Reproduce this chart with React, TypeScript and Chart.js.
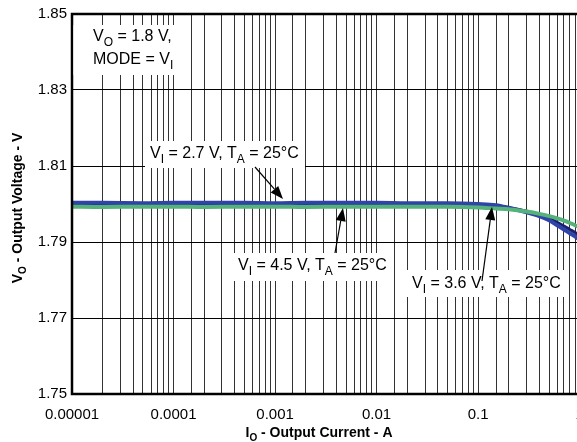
import React, { useEffect, useRef } from "react";
import { Chart, registerables } from "chart.js";

Chart.register(...registerables);

// ---- data ----
const currents = [0.00001, 0.00002, 0.00005, 0.0001, 0.0002, 0.0005, 0.001, 0.002, 0.005, 0.01, 0.02, 0.05, 0.1, 0.15, 0.2, 0.3, 0.4, 0.5, 0.6, 0.7, 0.8, 0.9, 1];
const vi27 = [1.8003, 1.8003, 1.8002, 1.8003, 1.8003, 1.8003, 1.8002, 1.8003, 1.8003, 1.8003, 1.8002, 1.8002, 1.8000, 1.7997, 1.7990, 1.7978, 1.7968, 1.7957, 1.7944, 1.7933, 1.7923, 1.7915, 1.7905];
const vi36 = [1.8001, 1.8001, 1.8000, 1.8001, 1.8001, 1.8000, 1.8001, 1.8001, 1.8000, 1.8001, 1.8000, 1.8000, 1.7998, 1.7995, 1.7990, 1.7981, 1.7972, 1.7962, 1.7952, 1.7942, 1.7933, 1.7925, 1.7917];
const vi45 = [1.7993, 1.7992, 1.7993, 1.7993, 1.7992, 1.7993, 1.7993, 1.7992, 1.7993, 1.7993, 1.7993, 1.7993, 1.7991, 1.7988, 1.7986, 1.7980, 1.7974, 1.7968, 1.7962, 1.7956, 1.7950, 1.7944, 1.7938];
const xTickLabels = ["0.00001", "0.0001", "0.001", "0.01", "0.1", "1"];
const yTickValues = [1.75, 1.77, 1.79, 1.81, 1.83, 1.85];

type Part = [string, boolean];
const noteMode: Part[][] = [
  [["V", false], ["O", true], [" = 1.8 V,", false]],
  [["MODE = V", false], ["I", true]],
];
const note27: Part[] = [["V", false], ["I", true], [" = 2.7 V, T", false], ["A", true], [" = 25°C", false]];
const note45: Part[] = [["V", false], ["I", true], [" = 4.5 V, T", false], ["A", true], [" = 25°C", false]];
const note36: Part[] = [["V", false], ["I", true], [" = 3.6 V, T", false], ["A", true], [" = 25°C", false]];
const yTitle: Part[] = [["V", false], ["O", true], [" - Output Voltage - V", false]];
const xTitle: Part[] = [["I", false], ["O", true], [" - Output Current - A", false]];

const FONT = '"Liberation Sans", Arial, Helvetica, sans-serif';

function richWidth(ctx: CanvasRenderingContext2D, parts: Part[], size: number, bold = false) {
  let w = 0;
  for (const [t, sub] of parts) {
    ctx.font = `${bold ? "bold " : ""}${sub ? Math.round(size * 0.72) : size}px ${FONT}`;
    w += ctx.measureText(t).width;
  }
  return w;
}

function drawRich(ctx: CanvasRenderingContext2D, x: number, y: number, parts: Part[], size: number, bold = false) {
  let cx = x;
  ctx.textBaseline = "alphabetic";
  ctx.textAlign = "left";
  for (const [t, sub] of parts) {
    ctx.font = `${bold ? "bold " : ""}${sub ? Math.round(size * 0.72) : size}px ${FONT}`;
    ctx.fillText(t, cx, sub ? y + size * 0.3 : y);
    cx += ctx.measureText(t).width;
  }
}

function arrow(ctx: CanvasRenderingContext2D, x1: number, y1: number, x2: number, y2: number) {
  const ang = Math.atan2(y2 - y1, x2 - x1);
  const len = 13, hw = 5;
  ctx.save();
  ctx.strokeStyle = "#000";
  ctx.fillStyle = "#000";
  ctx.lineWidth = 1.2;
  ctx.beginPath();
  ctx.moveTo(x1, y1);
  ctx.lineTo(x2 - Math.cos(ang) * len, y2 - Math.sin(ang) * len);
  ctx.stroke();
  ctx.beginPath();
  ctx.moveTo(x2, y2);
  ctx.lineTo(x2 - Math.cos(ang) * len - Math.sin(ang) * hw, y2 - Math.sin(ang) * len + Math.cos(ang) * hw);
  ctx.lineTo(x2 - Math.cos(ang) * len + Math.sin(ang) * hw, y2 - Math.sin(ang) * len - Math.cos(ang) * hw);
  ctx.closePath();
  ctx.fill();
  ctx.restore();
}

const decorPlugin = {
  id: "decor",
  afterDraw(chart: any) {
    const ctx: CanvasRenderingContext2D = chart.ctx;
    const a = chart.chartArea;
    ctx.save();
    // frame
    ctx.strokeStyle = "#000";
    ctx.lineWidth = 2.5;
    ctx.strokeRect(a.left, a.top, a.right - a.left, a.bottom - a.top);

    ctx.fillStyle = "#fff";
    // annotation boxes
    ctx.fillRect(a.left + 1.5, 25, 105, 50);
    ctx.fillRect(145, 141, 160, 27);
    ctx.fillRect(233, 253, 160, 28);
    ctx.fillRect(405, 270, 160, 27);

    ctx.fillStyle = "#000";
    drawRich(ctx, 93, 41, noteMode[0], 16);
    drawRich(ctx, 93, 64, noteMode[1], 16);
    drawRich(ctx, 150, 158, note27, 16);
    drawRich(ctx, 238, 270, note45, 16);
    drawRich(ctx, 412, 288, note36, 16);

    arrow(ctx, 255, 167, 283, 199);
    arrow(ctx, 335, 253, 343, 208);
    arrow(ctx, 482, 281, 492, 207);

    // axis titles
    const xw = richWidth(ctx, xTitle, 14, true);
    drawRich(ctx, 319 - xw / 2, 437, xTitle, 14, true);
    const yw = richWidth(ctx, yTitle, 14, true);
    ctx.save();
    ctx.translate(22, (a.top + a.bottom) / 2 + yw / 2 + 4);
    ctx.rotate(-Math.PI / 2);
    drawRich(ctx, 0, 0, yTitle, 14, true);
    ctx.restore();
    ctx.restore();
  },
};

export default function App() {
  const ref = useRef<HTMLCanvasElement>(null);
  useEffect(() => {
    if (!ref.current) return;
    const chart = new Chart(ref.current, {
      type: "line",
      data: {
        datasets: [
          { label: "VI = 4.5 V", data: currents.map((x, i) => ({ x, y: vi45[i] })), borderColor: "#55b27a", borderWidth: 4, pointRadius: 0, cubicInterpolationMode: "monotone" },
          { label: "VI = 2.7 V", data: currents.map((x, i) => ({ x, y: vi27[i] })), borderColor: "#2f44a6", borderWidth: 4, pointRadius: 0, cubicInterpolationMode: "monotone" },
          { label: "VI = 3.6 V", data: currents.map((x, i) => ({ x, y: vi36[i] })), borderColor: "#1a2070", borderWidth: 3, pointRadius: 0, cubicInterpolationMode: "monotone" },
        ],
      },
      options: {
        animation: false,
        responsive: true,
        maintainAspectRatio: false,
        layout: { padding: { top: 14, right: 20.3, left: 0, bottom: 0 } },
        plugins: { legend: { display: false }, tooltip: { enabled: false } },
        scales: {
          x: {
            type: "logarithmic",
            min: 0.00001,
            max: 1,
            afterFit: (s: any) => { s.height = 48; },
            border: { display: false },
            grid: { color: "#333", lineWidth: 1, drawTicks: false },
            ticks: {
              autoSkip: false,
              maxRotation: 0,
              minRotation: 0,
              padding: 12,
              color: "#000",
              font: { family: FONT, size: 15 },
              callback: (v: any) => {
                const n = Number(v);
                const e = Math.log10(n);
                if (Math.abs(e - Math.round(e)) < 1e-6) return xTickLabels[Math.round(e) + 5] ?? "";
                return "";
              },
            },
          },
          y: {
            type: "linear",
            min: yTickValues[0],
            max: yTickValues[yTickValues.length - 1],
            afterFit: (s: any) => { s.width = 72; },
            afterBuildTicks: (s: any) => { s.ticks = yTickValues.map((v) => ({ value: v })); },
            border: { display: false },
            grid: { color: "#000", lineWidth: 1, drawTicks: false },
            ticks: {
              padding: 5,
              color: "#000",
              font: { family: FONT, size: 15 },
              callback: (v: any) => Number(v).toFixed(2),
            },
          },
        },
      },
      plugins: [decorPlugin],
    });
    return () => chart.destroy();
  }, []);
  return (
    <div style={{ position: "fixed", left: 0, top: 0, width: 577, height: 442, overflow: "hidden", background: "#fff" }}>
      <div style={{ position: "relative", width: 600, height: 442 }}>
        <canvas ref={ref} />
      </div>
    </div>
  );
}
